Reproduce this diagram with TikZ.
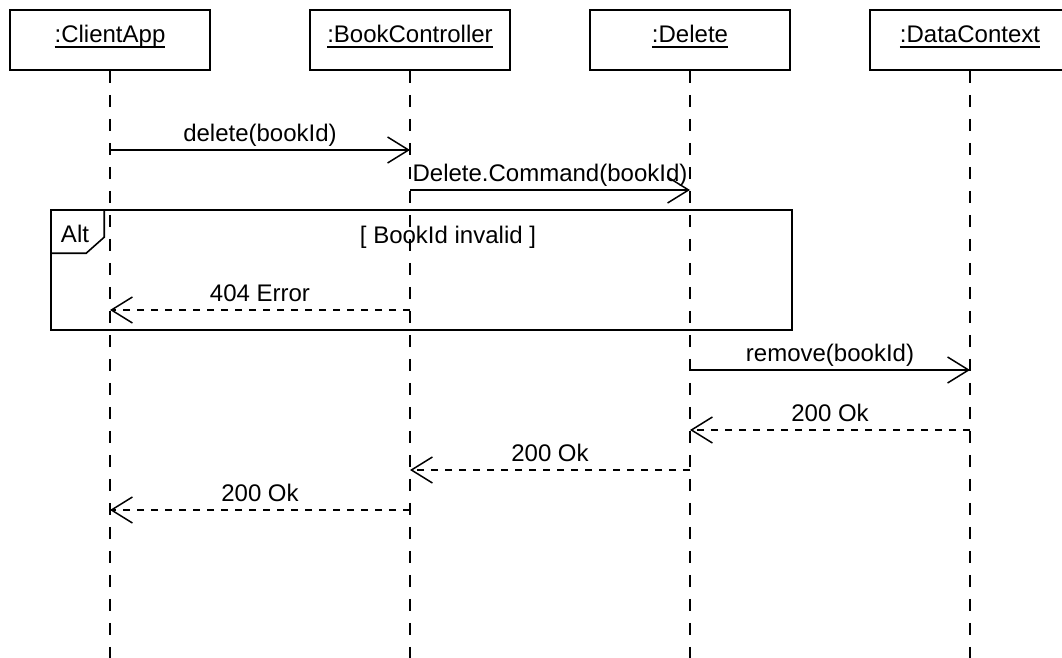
\documentclass[tikz,border=0pt]{standalone}
\usepackage{fontspec}
\setmainfont{Liberation Sans}
\usetikzlibrary{arrows.meta}
% underlined object name with a fixed rule below the baseline
\newcommand\ulname[1]{\setbox0\hbox{#1}\rlap{\rule[-4.6pt]{\wd0}{1.6pt}}\box0}
\begin{document}
\begin{tikzpicture}[x=1pt,y=-1pt,
  every node/.style={font=\fontsize{24}{28}\selectfont},
  head/.style={draw, line width=1.6pt, minimum width=200pt, minimum height=60pt,
    inner sep=0pt, text height=17pt, text depth=11pt},
  lifeline/.style={line width=1.6pt, dash pattern=on 12pt off 12pt},
  call/.style={line width=1.5pt, -{Straight Barb[length=21pt,width=26pt]}},
  reply/.style={call, dash pattern=on 7pt off 7pt},
  lbl/.style={anchor=base, yshift=8.5pt, inner sep=0pt},
  frame/.style={draw, line width=1.6pt, inner sep=0pt}]
\useasboundingbox (0,0) rectangle (1062,658);
\clip (0,0) rectangle (1062,658);

% participants
\node[head] (ca) at (110,40) {\ulname{:ClientApp}};
\node[head] (bc) at (410,40) {\ulname{:BookController}};
\node[head] (dl) at (690,40) {\ulname{:Delete}};
\node[head] (dc) at (970,40) {\ulname{:DataContext}};

% lifelines
\coordinate (bottom) at (0,658);
\foreach \n in {ca,bc,dl,dc}
  \draw[lifeline] (\n.south) -- (\n.south |- bottom);

% alt fragment
\node[frame, minimum width=741pt, minimum height=120pt] (alt) at (421.5,270) {};
\draw[line width=1.6pt] ([xshift=54pt]alt.north west) -- ++(0,28) -- ++(-18,16) -- ++(-36,0);
\node[anchor=base, inner sep=0pt] (altlbl) at (75,242) {Alt};
\node[anchor=base, inner sep=0pt] (guard) at (448,243) {[ BookId invalid ]};

% message rows
\coordinate (r1) at (0,150);
\coordinate (r2) at (0,190);
\coordinate (r3) at (0,310);
\coordinate (r4) at (0,370);
\coordinate (r5) at (0,430);
\coordinate (r6) at (0,470);
\coordinate (r7) at (0,510);

% messages
\draw[call]  (ca |- r1) -- node[lbl] (m1) {delete(bookId)} (bc |- r1);
\draw[call]  (bc |- r2) -- node[lbl] (m2) {Delete.Command(bookId)} (dl |- r2);
\draw[reply] (bc |- r3) -- node[lbl] (m3) {404 Error} (ca |- r3);
\draw[call]  (dl |- r4) -- node[lbl] (m4) {remove(bookId)} (dc |- r4);
\draw[reply] (dc |- r5) -- node[lbl] (m5) {200 Ok} (dl |- r5);
\draw[reply] (dl |- r6) -- node[lbl] (m6) {200 Ok} (bc |- r6);
\draw[reply] (bc |- r7) -- node[lbl] (m7) {200 Ok} (ca |- r7);
\end{tikzpicture}
\end{document}
